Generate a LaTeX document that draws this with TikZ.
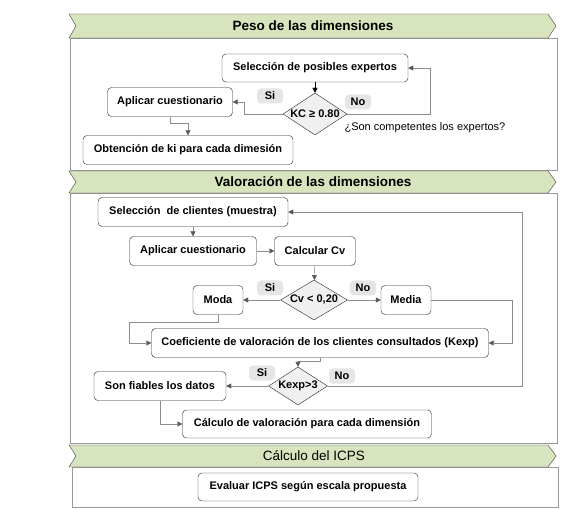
\documentclass[tikz,border=0pt]{standalone}
\usepackage{fontspec}
\setmainfont{Liberation Sans}
\usetikzlibrary{arrows.meta,positioning,shapes.geometric}
\definecolor{bannergreen}{HTML}{D7E4BD}
\begin{document}
\begin{tikzpicture}[x=1pt, y=-1pt, every node/.style={font=\fontsize{11}{13}\selectfont\bfseries}, state/.style={draw=black!85, rounded corners=4pt, fill=white, align=center, minimum height=29pt, inner sep=2pt}, cond/.style={diamond, draw=black!85, fill=gray!12, inner sep=0pt}, tag/.style={fill=gray!20, rounded corners=4pt, minimum width=26pt, minimum height=15pt, inner sep=1pt}, banner/.style={draw=black!75, fill=bannergreen}, section/.style={draw=gray!80, fill=white}, title/.style={font=\fontsize{13.5}{16}\selectfont\bfseries}, arrow/.style={-{Triangle[length=5pt,width=5pt,color=black!65]}, draw=gray!90}]
\useasboundingbox (0,0) rectangle (562,510);
% secciones
\draw[section] (70,38) rectangle (557,170);
\draw[section] (70,193) rectangle (557,443);
\draw[section] (72,467) rectangle (558,507);
\draw[banner] (69,14) -- (548,14) -- (556,26) -- (548,38) -- (69,38) -- (76,26) -- cycle;
\draw[banner] (69,171) -- (548,171) -- (556,182) -- (548,193) -- (69,193) -- (76,182) -- cycle;
\draw[banner] (69,445) -- (548,445) -- (556,456) -- (548,467) -- (69,467) -- (76,456) -- cycle;
\node[title] (peso) at (313,26) {Peso de las dimensiones};
\node[title] (valor) at (313,182) {Valoración de las dimensiones};
\node[title, font=\fontsize{13.5}{16}\selectfont\mdseries] (icps) at (314,456) {Cálculo del ICPS};
% peso de las dimensiones
\node[state, minimum width=186pt, minimum height=28pt] (selexp) at (315,68) {Selección de posibles expertos};
\node[cond, minimum width=64pt, minimum height=42pt] (kc) at (315,114) {\makebox[0pt]{KC ≥ 0.80}};
\node[state, minimum width=125pt] (aplic1) at (170,102) {Aplicar cuestionario};
\node[state, minimum width=210pt] (obten) at (188,150) {Obtención de ki para cada dimesión};
\node[tag] (si1) at (270,96) {Si};
\node[tag] (no1) at (358,102) {No};
\node[font=\fontsize{11}{13}\selectfont, anchor=west] (compet) at (341,128) {¿Son competentes los expertos?};
\draw[arrow, draw=black, -{Triangle[length=5pt,width=5pt,color=black]}] (selexp) -- (kc);
\draw[arrow] (kc.west) -- ++(-39,0) |- (aplic1.east);
\draw[arrow] (kc.east) -- ++(83,0) |- (selexp.east);
\draw[arrow] (aplic1.south) -- ++(0,7) -| (obten.north);
% valoracion de las dimensiones
\node[state, minimum width=190pt] (selcli) at (193,212) {Selección\ \ de clientes (muestra)};
\node[state, minimum width=127pt] (aplic2) at (193,251) {Aplicar cuestionario};
\node[state, minimum width=81pt] (calcv) at (315,251) {Calcular Cv};
\node[cond, minimum width=67pt, minimum height=40pt] (cv) at (314,300) {\makebox[0pt]{Cv < 0,20}};
\node[state, minimum width=50pt] (moda) at (218,300) {Moda};
\node[state, minimum width=50pt] (media) at (406,300) {Media};
\node[tag] (si2) at (270,288) {Si};
\node[tag] (no2) at (363,288) {No};
\node[state, minimum width=337pt] (coef) at (320,343) {Coeficiente de valoración de los clientes consultados (Kexp)};
\node[cond, minimum width=59pt, minimum height=38pt] (kexp) at (298,386) {\makebox[0pt]{Kexp>3}};
\node[state, minimum width=132pt] (fiab) at (160,386) {Son fiables los datos};
\node[tag] (si3) at (262,373) {Si};
\node[tag] (no3) at (342,376) {No};
\node[state, minimum width=249pt, minimum height=28pt] (calval) at (307,424) {Cálculo de valoración para cada dimensión};
\draw[arrow] (selcli) -- (aplic2);
\draw[arrow] (aplic2) -- (calcv);
\draw[arrow] (calcv) -- (cv);
\draw[arrow] (cv) -- (moda);
\draw[arrow] (cv) -- (media);
\draw[arrow] (moda.south) -- ++(0,8) -- ++(-89,0) |- (coef.west);
\draw[arrow] (media.east) -- ++(81,0) |- (coef.east);
\draw[arrow] (coef.south) -- ++(0,4) -| (kexp.north);
\draw[arrow] (kexp) -- (fiab);
\draw[arrow] (kexp.east) -- ++(194,0) |- (selcli.east);
\draw[arrow] (fiab.south) |- (calval.west);
% calculo del ICPS
\node[state, minimum width=220pt, minimum height=28pt] (evaluar) at (308,487) {Evaluar ICPS según escala propuesta};
\end{tikzpicture}
\end{document}
